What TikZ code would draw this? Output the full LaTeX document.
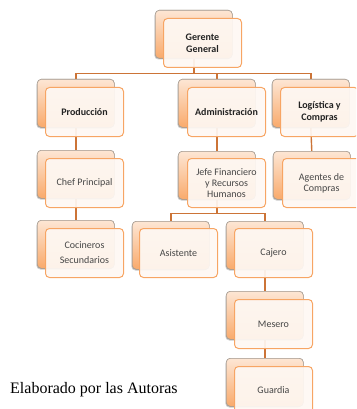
\documentclass[tikz,border=0pt]{standalone}
\usepackage{fontspec}
\setmainfont{Liberation Serif}
\newfontfamily\boxfont{Carlito}
\usetikzlibrary{calc,shadows}
\definecolor{linec}{RGB}{204,116,55}
\definecolor{backtop}{RGB}{253,230,212}
\definecolor{backbot}{RGB}{249,170,108}
\definecolor{backedge}{RGB}{170,160,150}
\definecolor{frontfill}{RGB}{254,248,243}
\definecolor{frontedge}{RGB}{247,165,100}
\definecolor{boldtext}{RGB}{35,35,35}
\definecolor{regtext}{RGB}{70,70,70}
\tikzset{
  backbox/.style={rectangle, rounded corners=4pt, draw=backedge, line width=0.6pt,
    top color=backtop, bottom color=backbot, minimum width=77pt, minimum height=48pt,
    anchor=north west, inner sep=0pt},
  backshadow/.style={drop shadow={shadow xshift=-0.9pt, shadow yshift=-1.2pt, opacity=0.35, fill=black!60}},
  frontbox/.style={rectangle, rounded corners=4pt, draw=frontedge, line width=1pt,
    fill=frontfill, fill opacity=0.93, text opacity=1, minimum width=78pt, minimum height=49pt,
    anchor=north west, inner sep=1pt, align=center, font=\boxfont\fontsize{10}{11}\selectfont},
  boldlbl/.style={font=\boxfont\bfseries\fontsize{10}{12}\selectfont, text=boldtext},
  reglbl/.style={text=regtext},
  conn/.style={draw=linec, line width=1.4pt}
}
\begin{document}
\begin{tikzpicture}[x=1pt,y=-1pt]
\useasboundingbox (0,0) rectangle (356,409);
\begin{scope}
\clip (0,0) rectangle (356,409);
% back boxes (named, used for connector anchors)
\node[backbox] (gB) at (155,10) {};
\node[backbox] (pB) at (37,79) {};
\node[backbox] (aB) at (178,79) {};
\node[backbox] (lB) at (272,79) {};
\node[backbox] (cB) at (37,150) {};
\node[backbox] (jB) at (178,151) {};
\node[backbox] (agB) at (273,151) {};
\node[backbox] (coB) at (37,220) {};
\node[backbox] (asB) at (132,221) {};
\node[backbox] (caB) at (226,221) {};
\node[backbox] (mB) at (226,291) {};
\node[backbox] (guB) at (226,358) {};
% connectors
\draw[conn] (gB.south) -- ($(gB.south)+(0,15)$) coordinate (hub1);
\draw[conn] (hub1) -| (pB.north);
\draw[conn] (hub1) -| (aB.north);
\draw[conn] (hub1) -| (lB.north);
\draw[conn] (pB.south) -- (cB.north);
\draw[conn] (cB.south) -- (coB.north);
\draw[conn] (aB.south) -- (jB.north);
\draw[conn] (lB.south) -- (agB.north);
\draw[conn] (jB.south) -- ($(jB.south)+(0,14)$) coordinate (hub2);
\draw[conn] (hub2) -| (asB.north);
\draw[conn] (hub2) -| (caB.north);
\draw[conn] (caB.south) -- (mB.north);
\draw[conn] (mB.south) -- (guB.north);
% back boxes redrawn over connectors, with shadow
\foreach \bx/\by in {155/10, 37/79, 178/79, 272/79, 37/150, 178/151, 273/151, 37/220, 132/221, 226/221, 226/291, 226/358}
  \node[backbox, backshadow] at (\bx,\by) {};
% front boxes
\node[frontbox, boldlbl] (g) at (163,18) {Gerente\\General};
\node[frontbox, boldlbl] (p) at (45,87) {Producción};
\node[frontbox, boldlbl] (a) at (187,87) {Administración};
\node[frontbox, boldlbl] (l) at (280,87) {Logística y\\Compras};
\node[frontbox, reglbl] (c) at (45,158) {Chef Principal};
\node[frontbox, reglbl] (j) at (187,158) {Jefe Financiero\\y Recursos\\Humanos};
\node[frontbox, reglbl] (ag) at (282,158) {Agentes de\\Compras};
\node[frontbox, reglbl, font=\boxfont\fontsize{10}{15}\selectfont] (co) at (45,228) {Cocineros\\Secundarios};
\node[frontbox, reglbl] (as) at (139,228) {Asistente};
\node[frontbox, reglbl] (ca) at (234,228) {Cajero};
\node[frontbox, reglbl] (m) at (234,299) {Mesero};
\node[frontbox, reglbl, minimum height=48pt, text depth=0pt, yshift=0pt] (gu) at (234,366) {\raisebox{1.5pt}{Guardia}};
\end{scope}
\node[anchor=base west, inner sep=0pt, font=\fontsize{16}{18}\selectfont] (cap) at (10,393) {Elaborado por las Autoras};
\end{tikzpicture}
\end{document}
